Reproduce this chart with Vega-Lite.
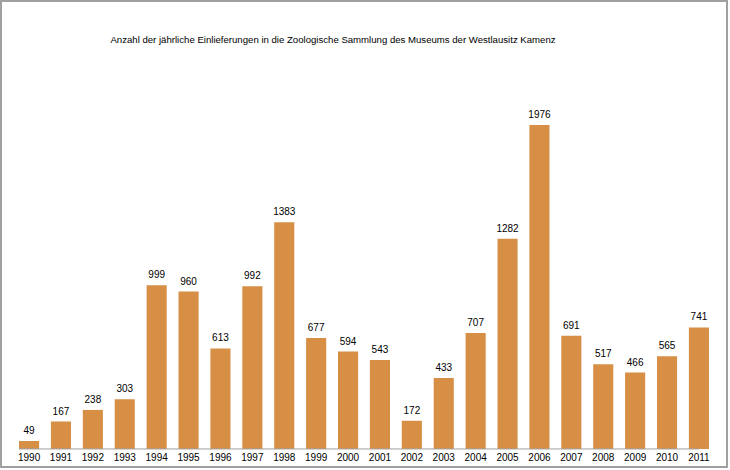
{
  "$schema": "https://vega.github.io/schema/vega-lite/v6.json",
  "width": 726,
  "height": 466,
  "autosize": "none",
  "padding": {"left": 1, "top": 1, "right": 3, "bottom": 3},
  "background": "white",
  "config": {
    "view": {"stroke": "#A0A0A0", "strokeWidth": 2},
    "font": "Liberation Sans"
  },
  "title": {
    "text": "Anzahl der jährliche Einlieferungen in die Zoologische Sammlung des Museums der Westlausitz Kamenz",
    "fontSize": 9.6,
    "fontWeight": "normal",
    "font": "Liberation Sans",
    "color": "#000000",
    "offset": -44,
    "dx": -31
  },
  "data": {
    "values": [
      {"year": "1990", "count": 49},
      {"year": "1991", "count": 167},
      {"year": "1992", "count": 238},
      {"year": "1993", "count": 303},
      {"year": "1994", "count": 999},
      {"year": "1995", "count": 960},
      {"year": "1996", "count": 613},
      {"year": "1997", "count": 992},
      {"year": "1998", "count": 1383},
      {"year": "1999", "count": 677},
      {"year": "2000", "count": 594},
      {"year": "2001", "count": 543},
      {"year": "2002", "count": 172},
      {"year": "2003", "count": 433},
      {"year": "2004", "count": 707},
      {"year": "2005", "count": 1282},
      {"year": "2006", "count": 1976},
      {"year": "2007", "count": 691},
      {"year": "2008", "count": 517},
      {"year": "2009", "count": 466},
      {"year": "2010", "count": 565},
      {"year": "2011", "count": 741}
    ]
  },
  "encoding": {
    "x": {
      "field": "year",
      "type": "ordinal",
      "scale": {"paddingInner": 0.37, "paddingOuter": 0.565},
      "axis": {
        "title": null,
        "labelAngle": 0,
        "ticks": false,
        "domain": false,
        "offset": -18,
        "labelPadding": 3,
        "labelFontSize": 10,
        "labelColor": "#000000",
        "labelFont": "Liberation Sans"
      }
    }
  },
  "layer": [
    {
      "mark": {"type": "bar", "color": "#D68F45"},
      "encoding": {
        "y": {
          "field": "count",
          "type": "quantitative",
          "scale": {"domain": [-110, 2732], "nice": false, "zero": false},
          "axis": null
        }
      }
    },
    {
      "mark": {"type": "text", "baseline": "bottom", "dy": -5, "fontSize": 10, "color": "#000000", "font": "Liberation Sans"},
      "encoding": {
        "y": {"field": "count", "type": "quantitative"},
        "text": {"field": "count", "type": "quantitative"}
      }
    },
    {
      "data": {"values": [{"a": 1}]},
      "mark": {"type": "rule", "color": "#A0A0A0", "strokeWidth": 1},
      "encoding": {
        "x": {"datum": "1990", "type": "ordinal", "bandPosition": 0},
        "x2": {"datum": "2011"},
        "y": {"datum": 0, "type": "quantitative"}
      }
    }
  ]
}
